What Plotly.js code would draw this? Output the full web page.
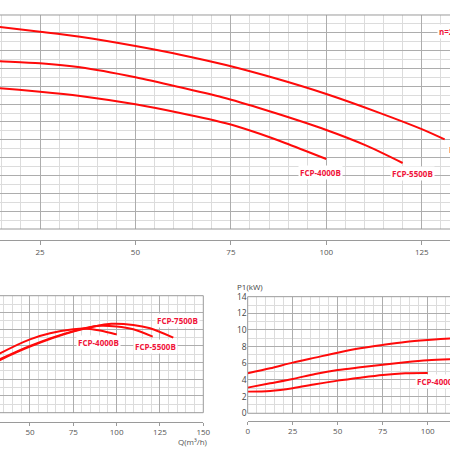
<!DOCTYPE html>
<html>
<head>
<meta charset="utf-8">
<script src="https://cdn.plot.ly/plotly-3.0.1.min.js"></script>
<style>
  html, body { margin: 0; padding: 0; background: #fff; }
  #chart { width: 450px; height: 450px; }
</style>
</head>
<body>
<div id="chart"></div>
<script>
// Pump models
const models = ['FCP-4000B', 'FCP-5500B', 'FCP-7500B'];

// Head curves H (m) against flow Q (m³/h)
const headQ4000 = [0, 14.5, 25, 35.5, 50, 61.7, 73.7, 81, 89.2, 100];
const headH4000 = [16.2, 15.78, 15.4, 14.92, 13.98, 13.0, 11.85, 10.9, 9.65, 7.85];
const headQ5500 = [0, 14.5, 25, 35.5, 50, 61.7, 73.7, 86.6, 100, 110.2, 120];
const headH5500 = [19.1, 18.81, 18.58, 18.13, 17.01, 15.89, 14.66, 13.0, 11.1, 9.4, 7.4];
const headQ7500 = [0, 14.5, 25, 35.5, 50, 61.7, 73.7, 86.6, 100, 114.1, 125, 131];
const headH7500 = [23.3, 22.65, 22.13, 21.56, 20.52, 19.55, 18.39, 16.9, 15.14, 13.0, 11.2, 10.05];

// Efficiency curves η (%) against flow Q (m³/h)
const effQ4000 = [25, 32.7, 50, 61.6, 75, 81, 90.4, 100];
const effE4000 = [31, 35.5, 43.9, 47.5, 49.9, 50.4, 49.2, 46.8];
const effQ5500 = [25, 32.7, 50, 75, 90, 100, 109.6, 120.8];
const effE5500 = [28, 32, 40, 48.8, 52.0, 51.6, 49.9, 45.5];
const effQ7500 = [25, 32.7, 50, 75, 97, 109.6, 119.3, 132.7];
const effE7500 = [27.5, 31.5, 39.5, 48.5, 53.2, 52.5, 50.5, 44.9];

// Input power curves P1 (kW) against flow Q (m³/h)
const powQ4000 = [0, 12.5, 25, 37.5, 50, 62.5, 75, 87.5, 100];
const powP4000 = [2.6, 2.68, 3.0, 3.48, 3.92, 4.28, 4.6, 4.8, 4.84];
const powQ5500 = [0, 12.5, 25, 37.5, 50, 62.5, 75, 87.5, 100, 112.3, 120];
const powP5500 = [3.08, 3.6, 4.12, 4.72, 5.2, 5.52, 5.82, 6.12, 6.36, 6.48, 6.52];
const powQ7500 = [0, 12.5, 25, 37.5, 50, 62.5, 75, 87.5, 100, 112.3, 131];
const powP7500 = [4.8, 5.4, 6.08, 6.68, 7.28, 7.8, 8.2, 8.56, 8.8, 8.98, 9.1];

const qTicks = [0, 25, 50, 75, 100, 125, 150];
const p1Ticks = [0, 2, 4, 6, 8, 10, 12, 14];

const RED = '#ff0a0a';
const TXT = '#f0143a';
const GRID_MAJOR = '#adadad';
const GRID_MINOR = '#dcdcdc';
const FRAME = '#9a9a9a';

function curve(x, y, xa, ya) {
  return {
    x: x, y: y, xaxis: xa, yaxis: ya,
    type: 'scatter', mode: 'lines',
    line: { color: RED, width: 2, shape: 'spline', smoothing: 0.8 },
    hoverinfo: 'skip', showlegend: false
  };
}

const data = [
  curve(headQ4000, headH4000, 'x', 'y'),
  curve(headQ5500, headH5500, 'x', 'y'),
  curve(headQ7500, headH7500, 'x', 'y'),
  curve(effQ4000, effE4000, 'x2', 'y2'),
  curve(effQ5500, effE5500, 'x2', 'y2'),
  curve(effQ7500, effE7500, 'x2', 'y2'),
  curve(powQ4000, powP4000, 'x3', 'y3'),
  curve(powQ5500, powP5500, 'x3', 'y3'),
  curve(powQ7500, powP7500, 'x3', 'y3')
];

const tickFont = { family: 'Open Sans, sans-serif', size: 8, color: '#555' };

function qAxis(domain, range, pos, ticklen) {
  return {
    domain: domain, range: range,
    anchor: 'free', position: pos,
    tickmode: 'array', tickvals: qTicks, ticktext: qTicks.map(String),
    showline: true, linecolor: FRAME, linewidth: 1,
    ticks: 'outside', ticklen: ticklen, tickcolor: FRAME, tickwidth: 1,
    tickfont: tickFont,
    showgrid: true, gridcolor: GRID_MAJOR, gridwidth: 1,
    minor: { dtick: 5, tick0: 0, showgrid: true, gridcolor: GRID_MINOR, gridwidth: 1, ticks: '' },
    zeroline: false, fixedrange: true
  };
}

function valAxis(domain, range, major, minor, anchor, labels) {
  return {
    domain: domain, range: range, anchor: anchor,
    tick0: 0, dtick: major,
    showticklabels: labels, ticks: '',
    tickfont: { family: 'Open Sans, sans-serif', size: 8.5, color: '#444' },
    showgrid: true, gridcolor: GRID_MAJOR, gridwidth: 1,
    minor: { dtick: minor, tick0: 0, showgrid: true, gridcolor: GRID_MINOR, gridwidth: 1, ticks: '' },
    showline: false, zeroline: false, fixedrange: true
  };
}

function edge(xref, yref, x0, y0, x1, y1) {
  return {
    type: 'line', xref: xref, yref: yref,
    x0: x0, y0: y0, x1: x1, y1: y1,
    line: { color: FRAME, width: 1 }, layer: 'above'
  };
}

function tag(text, x, y, xref, yref, xanchor) {
  return {
    text: '<b>' + text + '</b>', x: x, y: y, xref: xref, yref: yref,
    xanchor: xanchor || 'center', yanchor: 'middle', showarrow: false,
    bgcolor: '#ffffff', borderpad: 1,
    font: { family: 'Open Sans, sans-serif', size: 8, color: TXT }
  };
}

const layout = {
  width: 450, height: 450,
  margin: { l: 0, r: 0, t: 0, b: 0 },
  paper_bgcolor: '#ffffff', plot_bgcolor: '#ffffff',
  showlegend: false,

  // H-Q chart
  xaxis: qAxis([0, 1], [14.52, 132.4], 0.4667, 4),
  yaxis: valAxis([0.4911, 0.9667], [0, 24], 2, 1, 'x', false),

  // η-Q chart
  xaxis2: qAxis([0, 0.4518], [32.7, 150], 0.0629, 3),
  yaxis2: valAxis([0.0829, 0.3429], [0, 70], 10, 5, 'x2', false),

  // P1-Q chart
  xaxis3: qAxis([0.5504, 1], [0, 112.4], 0.0651, 3),
  yaxis3: Object.assign(valAxis([0.0816, 0.3407], [0, 14], 2, 1, 'x3', true), {
    tickmode: 'array', tickvals: p1Ticks, ticktext: p1Ticks.map(String)
  }),

  shapes: [
    edge('x domain', 'y domain', 0, 1, 1, 1),
    edge('x domain', 'y domain', 0, 0, 1, 0),
    edge('x2 domain', 'y2 domain', 0, 1, 1, 1),
    edge('x2 domain', 'y2 domain', 0, 0, 1, 0),
    edge('x2 domain', 'y2 domain', 1, 0, 1, 1),
    edge('x3 domain', 'y3 domain', 0, 1, 1, 1),
    edge('x3 domain', 'y3 domain', 0, 0, 1, 0),
    edge('x3 domain', 'y3 domain', 0, 0, 0, 1)
  ],

  annotations: [
    tag(models[0], 98.6, 6.39, 'x', 'y'),
    tag(models[1], 122.7, 6.17, 'x', 'y'),
    tag(models[2], 131.6, 8.86, 'x', 'y', 'left'),
    tag('n=2900r/min', 129.0, 22.1, 'x', 'y', 'left'),

    tag(models[0], 89.3, 41.7, 'x2', 'y2'),
    tag(models[1], 122.2, 39.9, 'x2', 'y2'),
    tag(models[2], 134.9, 54.9, 'x2', 'y2'),

    tag(models[0], 93, 3.79, 'x3', 'y3', 'left'),

    {
      text: 'P1(kW)', xref: 'paper', yref: 'paper',
      x: 235 / 450, y: 1 - 286 / 450, xanchor: 'left', yanchor: 'middle',
      showarrow: false,
      font: { family: 'Open Sans, sans-serif', size: 8, color: '#444' }
    },
    {
      text: 'Q(m³/h)', xref: 'paper', yref: 'paper',
      x: 210 / 450, y: 1 - 441 / 450, xanchor: 'right', yanchor: 'middle',
      showarrow: false,
      font: { family: 'Open Sans, sans-serif', size: 8, color: '#555' }
    }
  ]
};

Plotly.newPlot('chart', data, layout, { staticPlot: true, displayModeBar: false });
</script>
</body>
</html>
